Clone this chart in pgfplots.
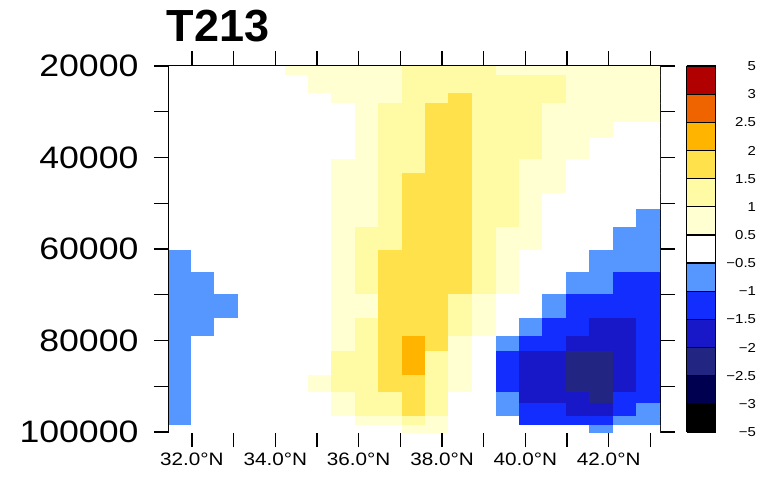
\documentclass[border=0pt]{standalone}
\usepackage{fontspec}
\setmainfont{Liberation Sans}
\newfontfamily\tickfont[FakeStretch=1.15]{Liberation Sans}
\usepackage{pgfplots}
\pgfplotsset{compat=1.18}

% NCL-like discrete palette, 13 bins from -5 to 5
\pgfplotsset{colormap={ncl}{
  rgb255(0)=(0,0,0) rgb255(1)=(0,0,80) rgb255(2)=(34,38,130) rgb255(3)=(24,24,200)
  rgb255(4)=(20,45,255) rgb255(5)=(85,150,255) rgb255(6)=(255,255,255)
  rgb255(7)=(255,255,210) rgb255(8)=(255,251,165) rgb255(9)=(255,226,75)
  rgb255(10)=(255,180,0) rgb255(11)=(240,100,0) rgb255(12)=(176,0,0)
  rgb255(13)=(176,0,0)}}

\begin{document}
\begin{tikzpicture}
\useasboundingbox (-169pt,-45pt) rectangle (600pt,432pt);
\begin{axis}[
  scale only axis, width=491pt, height=366pt,
  xmin=31.45, xmax=43.23, ymin=20000, ymax=100000, y dir=reverse,
  xtick={32,...,43},
  xticklabels={32.0°N,,34.0°N,,36.0°N,,38.0°N,,40.0°N,,42.0°N,},
  ytick={20000,30000,...,100000},
  yticklabels={20000,,40000,,60000,,80000,,100000},
  scaled y ticks=false,
  tick align=outside, major tick length=15pt,
  tick style={black, line width=1.3pt},
  axis line style={black, line width=1.3pt},
  xticklabel style={font=\tickfont\fontsize{18}{18}\selectfont, yshift=-2pt},
  yticklabel style={font=\tickfont\fontsize{31}{31}\selectfont, xshift=-12pt},
  title={\bfseries\fontsize{45}{45}\selectfont T213},
  title style={at={(0,1)}, anchor=base west, xshift=-6pt, yshift=19pt},
  colormap name=ncl, colormap access=piecewise constant,
  point meta min=-6.5, point meta max=6.5,
  colorbar,
  colorbar style={
    at={(parent axis.north east)}, anchor=north west, xshift=18pt,
    width=29pt,
    ytick={-6.5,-5.5,...,6.5},
    yticklabels={−5,−3,−2.5,−2,−1.5,−1,−0.5,0.5,1,1.5,2,2.5,3,5},
    yticklabel style={font=\tickfont\fontsize{13}{13}\selectfont, anchor=east, xshift=44pt},
    major tick length=0pt,
    ymajorgrids, grid style={black, line width=1.2pt},
    axis line style={black, line width=1.2pt},
  },
]
\addplot[surf, shader=flat corner, point meta=explicit, mesh/cols=22]
table[row sep=\\, meta=c] {
x y c\\
31.45 20000 0\\ 31.98 20000 0\\ 32.54 20000 0\\ 33.10 20000 0\\ 33.66 20000 0\\ 34.23 20000 1\\ 34.79 20000 1\\ 35.35 20000 1\\ 35.91 20000 1\\ 36.48 20000 1\\ 37.04 20000 2\\ 37.60 20000 2\\ 38.16 20000 2\\ 38.73 20000 2\\ 39.29 20000 1\\ 39.85 20000 1\\ 40.41 20000 1\\ 40.98 20000 1\\ 41.54 20000 1\\ 42.10 20000 1\\ 42.66 20000 1\\ 43.23 20000 1\\
31.45 22100 0\\ 31.98 22100 0\\ 32.54 22100 0\\ 33.10 22100 0\\ 33.66 22100 0\\ 34.23 22100 0\\ 34.79 22100 1\\ 35.35 22100 1\\ 35.91 22100 1\\ 36.48 22100 1\\ 37.04 22100 2\\ 37.60 22100 2\\ 38.16 22100 2\\ 38.73 22100 2\\ 39.29 22100 2\\ 39.85 22100 2\\ 40.41 22100 2\\ 40.98 22100 1\\ 41.54 22100 1\\ 42.10 22100 1\\ 42.66 22100 1\\ 43.23 22100 1\\
31.45 25850 0\\ 31.98 25850 0\\ 32.54 25850 0\\ 33.10 25850 0\\ 33.66 25850 0\\ 34.23 25850 0\\ 34.79 25850 0\\ 35.35 25850 1\\ 35.91 25850 1\\ 36.48 25850 1\\ 37.04 25850 2\\ 37.60 25850 2\\ 38.16 25850 3\\ 38.73 25850 2\\ 39.29 25850 2\\ 39.85 25850 2\\ 40.41 25850 2\\ 40.98 25850 1\\ 41.54 25850 1\\ 42.10 25850 1\\ 42.66 25850 1\\ 43.23 25850 1\\
31.45 28150 0\\ 31.98 28150 0\\ 32.54 28150 0\\ 33.10 28150 0\\ 33.66 28150 0\\ 34.23 28150 0\\ 34.79 28150 0\\ 35.35 28150 0\\ 35.91 28150 1\\ 36.48 28150 2\\ 37.04 28150 2\\ 37.60 28150 3\\ 38.16 28150 3\\ 38.73 28150 2\\ 39.29 28150 2\\ 39.85 28150 2\\ 40.41 28150 1\\ 40.98 28150 1\\ 41.54 28150 1\\ 42.10 28150 1\\ 42.66 28150 1\\ 43.23 28150 1\\
31.45 32200 0\\ 31.98 32200 0\\ 32.54 32200 0\\ 33.10 32200 0\\ 33.66 32200 0\\ 34.23 32200 0\\ 34.79 32200 0\\ 35.35 32200 0\\ 35.91 32200 1\\ 36.48 32200 2\\ 37.04 32200 2\\ 37.60 32200 3\\ 38.16 32200 3\\ 38.73 32200 2\\ 39.29 32200 2\\ 39.85 32200 2\\ 40.41 32200 1\\ 40.98 32200 1\\ 41.54 32200 1\\ 42.10 32200 0\\ 42.66 32200 0\\ 43.23 32200 0\\
31.45 35800 0\\ 31.98 35800 0\\ 32.54 35800 0\\ 33.10 35800 0\\ 33.66 35800 0\\ 34.23 35800 0\\ 34.79 35800 0\\ 35.35 35800 0\\ 35.91 35800 1\\ 36.48 35800 2\\ 37.04 35800 2\\ 37.60 35800 3\\ 38.16 35800 3\\ 38.73 35800 2\\ 39.29 35800 2\\ 39.85 35800 2\\ 40.41 35800 1\\ 40.98 35800 1\\ 41.54 35800 0\\ 42.10 35800 0\\ 42.66 35800 0\\ 43.23 35800 0\\
31.45 40400 0\\ 31.98 40400 0\\ 32.54 40400 0\\ 33.10 40400 0\\ 33.66 40400 0\\ 34.23 40400 0\\ 34.79 40400 0\\ 35.35 40400 1\\ 35.91 40400 1\\ 36.48 40400 2\\ 37.04 40400 2\\ 37.60 40400 3\\ 38.16 40400 3\\ 38.73 40400 2\\ 39.29 40400 2\\ 39.85 40400 1\\ 40.41 40400 1\\ 40.98 40400 0\\ 41.54 40400 0\\ 42.10 40400 0\\ 42.66 40400 0\\ 43.23 40400 0\\
31.45 43450 0\\ 31.98 43450 0\\ 32.54 43450 0\\ 33.10 43450 0\\ 33.66 43450 0\\ 34.23 43450 0\\ 34.79 43450 0\\ 35.35 43450 1\\ 35.91 43450 1\\ 36.48 43450 2\\ 37.04 43450 3\\ 37.60 43450 3\\ 38.16 43450 3\\ 38.73 43450 2\\ 39.29 43450 2\\ 39.85 43450 1\\ 40.41 43450 1\\ 40.98 43450 0\\ 41.54 43450 0\\ 42.10 43450 0\\ 42.66 43450 0\\ 43.23 43450 0\\
31.45 47850 0\\ 31.98 47850 0\\ 32.54 47850 0\\ 33.10 47850 0\\ 33.66 47850 0\\ 34.23 47850 0\\ 34.79 47850 0\\ 35.35 47850 1\\ 35.91 47850 1\\ 36.48 47850 2\\ 37.04 47850 3\\ 37.60 47850 3\\ 38.16 47850 3\\ 38.73 47850 2\\ 39.29 47850 2\\ 39.85 47850 1\\ 40.41 47850 0\\ 40.98 47850 0\\ 41.54 47850 0\\ 42.10 47850 0\\ 42.66 47850 0\\ 43.23 47850 0\\
31.45 51250 0\\ 31.98 51250 0\\ 32.54 51250 0\\ 33.10 51250 0\\ 33.66 51250 0\\ 34.23 51250 0\\ 34.79 51250 0\\ 35.35 51250 1\\ 35.91 51250 1\\ 36.48 51250 2\\ 37.04 51250 3\\ 37.60 51250 3\\ 38.16 51250 3\\ 38.73 51250 2\\ 39.29 51250 2\\ 39.85 51250 1\\ 40.41 51250 0\\ 40.98 51250 0\\ 41.54 51250 0\\ 42.10 51250 0\\ 42.66 51250 -1\\ 43.23 51250 -1\\
31.45 55150 0\\ 31.98 55150 0\\ 32.54 55150 0\\ 33.10 55150 0\\ 33.66 55150 0\\ 34.23 55150 0\\ 34.79 55150 0\\ 35.35 55150 1\\ 35.91 55150 2\\ 36.48 55150 2\\ 37.04 55150 3\\ 37.60 55150 3\\ 38.16 55150 3\\ 38.73 55150 2\\ 39.29 55150 1\\ 39.85 55150 1\\ 40.41 55150 0\\ 40.98 55150 0\\ 41.54 55150 0\\ 42.10 55150 -1\\ 42.66 55150 -1\\ 43.23 55150 -1\\
31.45 60200 -1\\ 31.98 60200 0\\ 32.54 60200 0\\ 33.10 60200 0\\ 33.66 60200 0\\ 34.23 60200 0\\ 34.79 60200 0\\ 35.35 60200 1\\ 35.91 60200 2\\ 36.48 60200 3\\ 37.04 60200 3\\ 37.60 60200 3\\ 38.16 60200 3\\ 38.73 60200 2\\ 39.29 60200 1\\ 39.85 60200 0\\ 40.41 60200 0\\ 40.98 60200 0\\ 41.54 60200 -1\\ 42.10 60200 -1\\ 42.66 60200 -1\\ 43.23 60200 -1\\
31.45 65100 -1\\ 31.98 65100 -1\\ 32.54 65100 0\\ 33.10 65100 0\\ 33.66 65100 0\\ 34.23 65100 0\\ 34.79 65100 0\\ 35.35 65100 1\\ 35.91 65100 2\\ 36.48 65100 3\\ 37.04 65100 3\\ 37.60 65100 3\\ 38.16 65100 3\\ 38.73 65100 2\\ 39.29 65100 1\\ 39.85 65100 0\\ 40.41 65100 0\\ 40.98 65100 -1\\ 41.54 65100 -1\\ 42.10 65100 -2\\ 42.66 65100 -2\\ 43.23 65100 -2\\
31.45 69850 -1\\ 31.98 69850 -1\\ 32.54 69850 -1\\ 33.10 69850 0\\ 33.66 69850 0\\ 34.23 69850 0\\ 34.79 69850 0\\ 35.35 69850 1\\ 35.91 69850 1\\ 36.48 69850 3\\ 37.04 69850 3\\ 37.60 69850 3\\ 38.16 69850 2\\ 38.73 69850 1\\ 39.29 69850 0\\ 39.85 69850 0\\ 40.41 69850 -1\\ 40.98 69850 -2\\ 41.54 69850 -2\\ 42.10 69850 -2\\ 42.66 69850 -2\\ 43.23 69850 -2\\
31.45 75150 -1\\ 31.98 75150 -1\\ 32.54 75150 0\\ 33.10 75150 0\\ 33.66 75150 0\\ 34.23 75150 0\\ 34.79 75150 0\\ 35.35 75150 1\\ 35.91 75150 2\\ 36.48 75150 3\\ 37.04 75150 3\\ 37.60 75150 3\\ 38.16 75150 2\\ 38.73 75150 1\\ 39.29 75150 0\\ 39.85 75150 -1\\ 40.41 75150 -2\\ 40.98 75150 -2\\ 41.54 75150 -3\\ 42.10 75150 -3\\ 42.66 75150 -2\\ 43.23 75150 -2\\
31.45 79000 -1\\ 31.98 79000 0\\ 32.54 79000 0\\ 33.10 79000 0\\ 33.66 79000 0\\ 34.23 79000 0\\ 34.79 79000 0\\ 35.35 79000 1\\ 35.91 79000 2\\ 36.48 79000 3\\ 37.04 79000 4\\ 37.60 79000 3\\ 38.16 79000 1\\ 38.73 79000 0\\ 39.29 79000 -1\\ 39.85 79000 -2\\ 40.41 79000 -2\\ 40.98 79000 -3\\ 41.54 79000 -3\\ 42.10 79000 -3\\ 42.66 79000 -2\\ 43.23 79000 -2\\
31.45 82300 -1\\ 31.98 82300 0\\ 32.54 82300 0\\ 33.10 82300 0\\ 33.66 82300 0\\ 34.23 82300 0\\ 34.79 82300 0\\ 35.35 82300 2\\ 35.91 82300 2\\ 36.48 82300 3\\ 37.04 82300 4\\ 37.60 82300 2\\ 38.16 82300 1\\ 38.73 82300 0\\ 39.29 82300 -2\\ 39.85 82300 -3\\ 40.41 82300 -3\\ 40.98 82300 -4\\ 41.54 82300 -4\\ 42.10 82300 -3\\ 42.66 82300 -2\\ 43.23 82300 -2\\
31.45 87550 -1\\ 31.98 87550 0\\ 32.54 87550 0\\ 33.10 87550 0\\ 33.66 87550 0\\ 34.23 87550 0\\ 34.79 87550 1\\ 35.35 87550 2\\ 35.91 87550 2\\ 36.48 87550 3\\ 37.04 87550 3\\ 37.60 87550 2\\ 38.16 87550 1\\ 38.73 87550 0\\ 39.29 87550 -2\\ 39.85 87550 -3\\ 40.41 87550 -3\\ 40.98 87550 -4\\ 41.54 87550 -4\\ 42.10 87550 -3\\ 42.66 87550 -2\\ 43.23 87550 -2\\
31.45 91400 -1\\ 31.98 91400 0\\ 32.54 91400 0\\ 33.10 91400 0\\ 33.66 91400 0\\ 34.23 91400 0\\ 34.79 91400 0\\ 35.35 91400 1\\ 35.91 91400 2\\ 36.48 91400 2\\ 37.04 91400 3\\ 37.60 91400 2\\ 38.16 91400 0\\ 38.73 91400 0\\ 39.29 91400 -1\\ 39.85 91400 -3\\ 40.41 91400 -3\\ 40.98 91400 -3\\ 41.54 91400 -4\\ 42.10 91400 -2\\ 42.66 91400 -2\\ 43.23 91400 -2\\
31.45 93750 -1\\ 31.98 93750 0\\ 32.54 93750 0\\ 33.10 93750 0\\ 33.66 93750 0\\ 34.23 93750 0\\ 34.79 93750 0\\ 35.35 93750 1\\ 35.91 93750 2\\ 36.48 93750 2\\ 37.04 93750 3\\ 37.60 93750 2\\ 38.16 93750 0\\ 38.73 93750 0\\ 39.29 93750 -1\\ 39.85 93750 -2\\ 40.41 93750 -2\\ 40.98 93750 -3\\ 41.54 93750 -3\\ 42.10 93750 -2\\ 42.66 93750 -1\\ 43.23 93750 -1\\
31.45 96650 -1\\ 31.98 96650 0\\ 32.54 96650 0\\ 33.10 96650 0\\ 33.66 96650 0\\ 34.23 96650 0\\ 34.79 96650 0\\ 35.35 96650 0\\ 35.91 96650 1\\ 36.48 96650 1\\ 37.04 96650 2\\ 37.60 96650 1\\ 38.16 96650 0\\ 38.73 96650 0\\ 39.29 96650 0\\ 39.85 96650 -2\\ 40.41 96650 -2\\ 40.98 96650 -2\\ 41.54 96650 -2\\ 42.10 96650 -1\\ 42.66 96650 -1\\ 43.23 96650 -1\\
31.45 98450 0\\ 31.98 98450 0\\ 32.54 98450 0\\ 33.10 98450 0\\ 33.66 98450 0\\ 34.23 98450 0\\ 34.79 98450 0\\ 35.35 98450 0\\ 35.91 98450 0\\ 36.48 98450 0\\ 37.04 98450 1\\ 37.60 98450 1\\ 38.16 98450 0\\ 38.73 98450 0\\ 39.29 98450 0\\ 39.85 98450 0\\ 40.41 98450 0\\ 40.98 98450 0\\ 41.54 98450 -1\\ 42.10 98450 0\\ 42.66 98450 0\\ 43.23 98450 0\\
31.45 100000 0\\ 31.98 100000 0\\ 32.54 100000 0\\ 33.10 100000 0\\ 33.66 100000 0\\ 34.23 100000 0\\ 34.79 100000 0\\ 35.35 100000 0\\ 35.91 100000 0\\ 36.48 100000 0\\ 37.04 100000 1\\ 37.60 100000 1\\ 38.16 100000 0\\ 38.73 100000 0\\ 39.29 100000 0\\ 39.85 100000 0\\ 40.41 100000 0\\ 40.98 100000 0\\ 41.54 100000 -1\\ 42.10 100000 0\\ 42.66 100000 0\\ 43.23 100000 0\\
};
\end{axis}
\end{tikzpicture}
\end{document}
